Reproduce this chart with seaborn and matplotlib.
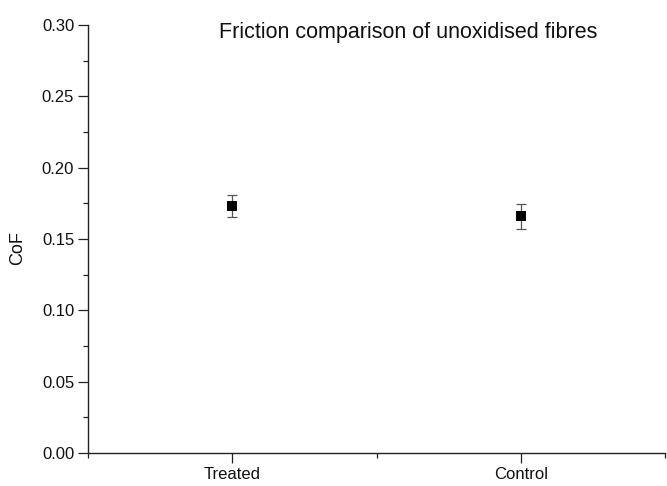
import matplotlib
matplotlib.use("Agg")
import matplotlib.pyplot as plt
from matplotlib.ticker import MultipleLocator, FixedLocator
import seaborn as sns
import pandas as pd

# Mean coefficient of friction and standard error per fibre group
groups = ["Treated", "Control"]
cof_mean = [0.173, 0.166]
cof_err = [0.0076, 0.0088]

df = pd.DataFrame({"group": groups, "cof": cof_mean, "err": cof_err})

sns.set_style("ticks")
plt.rcParams["font.family"] = ["Liberation Sans", "DejaVu Sans"]

fig = plt.figure(figsize=(6.67, 4.86), dpi=100)
ax = fig.add_axes([0.132, 0.068, 0.865, 0.8805])

ax.errorbar(range(len(groups)), df["cof"], yerr=df["err"], fmt="none",
            ecolor="#555555", elinewidth=0.9, capsize=3.4, capthick=0.9, zorder=2)
sns.scatterplot(data=df, x="group", y="cof", marker="s", s=62, color="black",
                edgecolor="black", linewidth=0, ax=ax, zorder=3, legend=False)

ax.set_xlim(-0.5, 1.5)
ax.set_ylim(0, 0.30)
ax.yaxis.set_major_locator(MultipleLocator(0.05))
ax.yaxis.set_minor_locator(MultipleLocator(0.025))
ax.set_yticklabels([f"{v:.2f}" for v in ax.get_yticks()])
ax.set_xticks(range(len(groups)))
ax.set_xticklabels(groups)
ax.xaxis.set_minor_locator(FixedLocator([-0.5, 0.5, 1.5]))

ax.tick_params(axis="both", which="major", direction="out", length=7,
               width=0.9, color="#222222", labelsize=12, labelcolor="#111111", pad=3)
ax.tick_params(axis="both", which="minor", direction="out", length=3.6,
               width=0.9, color="#222222")

for side in ("top", "right"):
    ax.spines[side].set_visible(False)
for side in ("left", "bottom"):
    ax.spines[side].set_linewidth(1.0)
    ax.spines[side].set_color("#222222")

ax.set_xlabel("")
ax.set_ylabel("CoF", fontsize=13, color="#111111")
ax.yaxis.set_label_coords(-0.108, 0.478)
ax.text(0.555, 0.9696, "Friction comparison of unoxidised fibres",
        transform=ax.transAxes, ha="center", va="baseline", fontsize=15.5,
        color="#111111")

fig.savefig("out.png", dpi=100)
